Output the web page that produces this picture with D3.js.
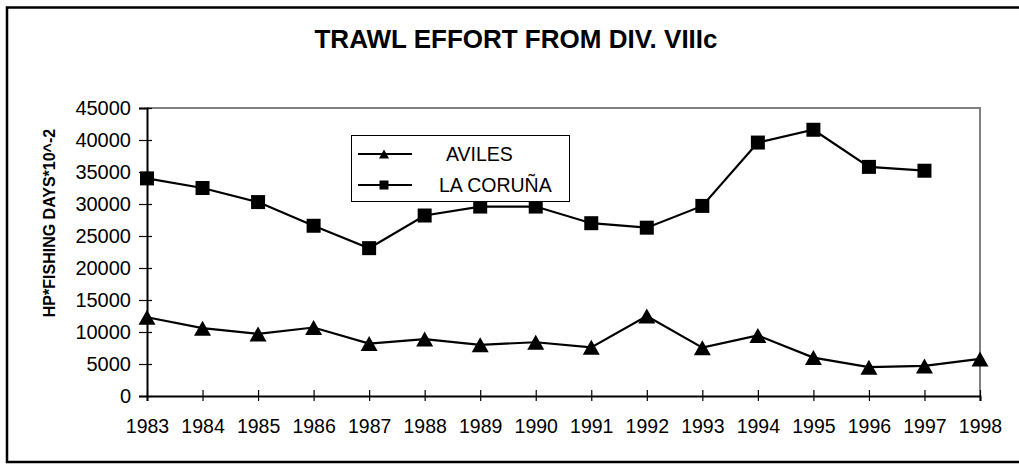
<!DOCTYPE html>
<html>
<head>
<meta charset="utf-8">
<script src="https://cdn.jsdelivr.net/npm/d3@7"></script>
<style>
  body { margin: 0; background: #fff; }
  text { font-family: Arial, "Liberation Sans", sans-serif; }
</style>
</head>
<body>
<div id="chart"></div>
<script>
// values
const years = [1983, 1984, 1985, 1986, 1987, 1988, 1989, 1990, 1991, 1992, 1993, 1994, 1995, 1996, 1997, 1998];
const aviles = [12300, 10600, 9700, 10700, 8200, 8900, 8000, 8400, 7600, 12500, 7550, 9450, 6000, 4500, 4700, 5800];
const coruna = [34000, 32500, 30300, 26600, 23100, 28200, 29600, 29600, 27000, 26300, 29700, 39600, 41600, 35800, 35200, null];
const yTicks = [0, 5000, 10000, 15000, 20000, 25000, 30000, 35000, 40000, 45000];
const seriesNames = ["AVILES", "LA CORUÑA"];

const W = 1019, H = 464;
const plot = {left: 147, right: 980, top: 108, bottom: 396};

let svg = d3.select("#chart").append("svg")
    .attr("width", W)
    .attr("height", H);

// outer frame (open on the right, like the scan)
svg.append("path")
    .attr("d", `M${W},7.5H7V462H${W}`)
    .attr("fill", "none")
    .attr("stroke", "#000")
    .attr("stroke-width", 2.5);

// title
svg.append("text")
    .attr("x", 516).attr("y", 48)
    .attr("text-anchor", "middle")
    .style("font-size", "26px")
    .style("font-weight", "bold")
    .text("TRAWL EFFORT FROM DIV. VIIIc");

let x = d3.scaleLinear().domain([1983, 1998]).range([plot.left, plot.right]);
let y = d3.scaleLinear().domain([0, 45000]).range([plot.bottom, plot.top]);

// top and right frame of the plot area (grey)
svg.append("path")
    .attr("d", `M${plot.left},${plot.top}H${plot.right}V${plot.bottom}`)
    .attr("fill", "none")
    .attr("stroke", "#808080")
    .attr("stroke-width", 2);

// x axis
let xAxis = svg.append("g")
    .attr("transform", `translate(0,${plot.bottom})`)
    .call(d3.axisBottom(x).tickValues(years).tickFormat(d3.format("d")).tickSize(5).tickPadding(18));
xAxis.selectAll(".tick line").attr("y1", -6).attr("stroke-width", 1.2);
xAxis.select(".domain").attr("stroke-width", 2);
xAxis.selectAll("text").style("font-size", "19.5px").attr("fill", "#000");

// y axis
let yAxis = svg.append("g")
    .attr("transform", `translate(${plot.left},0)`)
    .call(d3.axisLeft(y).tickValues(yTicks).tickFormat(d3.format("d")).tickSize(8).tickPadding(8));
yAxis.selectAll(".tick line").attr("x1", 5).attr("stroke-width", 1.2);
yAxis.select(".domain").attr("stroke-width", 2);
yAxis.selectAll("text").style("font-size", "20px").attr("fill", "#000");

// y label
svg.append("text")
    .attr("transform", "translate(55,223) rotate(-90)")
    .attr("text-anchor", "middle")
    .style("font-size", "16px")
    .style("font-weight", "bold")
    .text("HP*FISHING DAYS*10^-2");

// markers
const triPath = (w, h) => `M0,${-h/2}L${w/2},${h/2}L${-w/2},${h/2}Z`;
const sqPath = (s) => `M${-s/2},${-s/2}h${s}v${s}h${-s}Z`;

let line = d3.line()
    .defined(d => d.v != null)
    .x(d => x(d.year))
    .y(d => y(d.v));

const series = [
  {name: seriesNames[0], values: aviles, marker: triPath(17, 15), legendMarker: triPath(10, 9)},
  {name: seriesNames[1], values: coruna, marker: sqPath(14), legendMarker: sqPath(9)}
];

series.forEach(s => {
    let pts = years.map((yr, i) => ({year: yr, v: s.values[i]}));
    svg.append("path")
        .datum(pts)
        .attr("d", line)
        .attr("fill", "none")
        .attr("stroke", "#000")
        .attr("stroke-width", 2.2);
    svg.selectAll(null)
        .data(pts.filter(d => d.v != null))
        .enter()
        .append("path")
        .attr("transform", d => `translate(${x(d.year)},${y(d.v)})`)
        .attr("d", s.marker)
        .attr("fill", "#000");
});

// legend
let legend = svg.append("g");
legend.append("rect")
    .attr("x", 351.5).attr("y", 135.5)
    .attr("width", 218).attr("height", 66)
    .attr("fill", "#fff")
    .attr("stroke", "#000")
    .attr("stroke-width", 1);

const legendRows = [154, 185];
const legendTextX = [446, 439];
series.forEach((s, i) => {
    let ly = legendRows[i];
    legend.append("line")
        .attr("x1", 358).attr("x2", 412)
        .attr("y1", ly).attr("y2", ly)
        .attr("stroke", "#000")
        .attr("stroke-width", 2);
    legend.append("path")
        .attr("transform", `translate(384,${ly})`)
        .attr("d", s.legendMarker)
        .attr("fill", "#000");
    legend.append("text")
        .attr("x", legendTextX[i]).attr("y", ly + 7)
        .style("font-size", "19.5px")
        .text(s.name);
});
</script>
</body>
</html>
